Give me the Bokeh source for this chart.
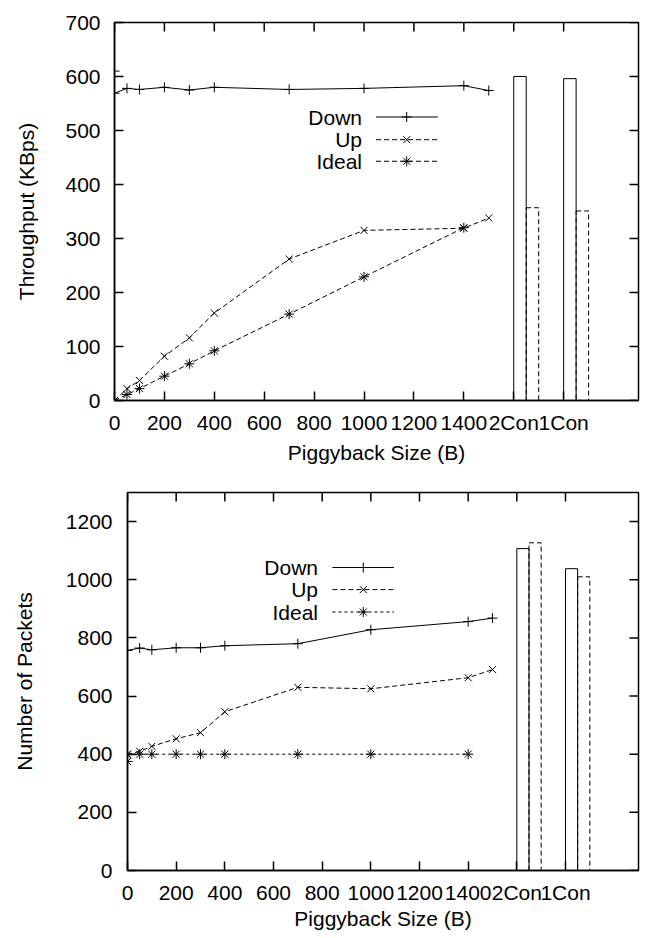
from bokeh.plotting import figure
from bokeh.models import Range1d, FixedTicker, Label
from bokeh.embed import file_html
from bokeh.resources import INLINE

# ---------------- data ----------------
x_tick_vals = [0, 200, 400, 600, 800, 1000, 1200, 1400, 1600, 1800]
x_tick_over = {1600: "2Con", 1800: "1Con"}
bar_cats = ["2Con", "1Con"]
bar_pos = [1600, 1800]

# top chart: throughput (KBps)
tp_down_x = [0, 0, 50, 100, 200, 300, 400, 700, 1000, 1400, 1500]
tp_down_y = [610, 569, 578, 576, 580, 575, 580, 576, 578, 583, 574]
tp_up_x = [0, 50, 100, 200, 300, 400, 700, 1000, 1400, 1500]
tp_up_y = [0, 22, 37, 82, 116, 162, 262, 315, 319, 338]
tp_ideal_x = [0, 50, 100, 200, 300, 400, 700, 1000, 1400]
tp_ideal_y = [0, 11, 22, 45, 68, 92, 160, 229, 320]
tp_bar_down = [600, 596]
tp_bar_up = [357, 351]
tp_yticks = [0, 100, 200, 300, 400, 500, 600, 700]

# bottom chart: number of packets
np_down_x = [0, 50, 100, 200, 300, 400, 700, 1000, 1400, 1500]
np_down_y = [757, 765, 759, 766, 766, 773, 780, 828, 856, 868]
np_up_x = [0, 50, 100, 200, 300, 400, 700, 1000, 1400, 1500]
np_up_y = [398, 410, 427, 453, 474, 546, 630, 625, 663, 691]
np_ideal_x = [0, 0, 50, 100, 200, 300, 400, 700, 1000, 1400]
np_ideal_y = [375, 400, 400, 400, 400, 400, 400, 400, 400, 400]
np_bar_down = [1107, 1038]
np_bar_up = [1127, 1010]
np_yticks = [0, 200, 400, 600, 800, 1000, 1200]

X_MAX = 2100
FONT = "Liberation Sans"
FS = "21px"
BAR_W = 50
TICK = 9


def make_fig(ylabel, ymax, yticks, down, up, ideal, bars_d, bars_u, ideal_dash,
             left, fw, top, bottom, ylab_standoff, tick_standoff, xlab_standoff, leg):
    p = figure(width=left + fw + 6, height=top + 378 + bottom,
               x_range=Range1d(0, X_MAX), y_range=Range1d(0, ymax),
               output_backend="svg", toolbar_location=None,
               min_border_left=left, min_border_right=6,
               min_border_top=top, min_border_bottom=bottom)
    p.xgrid.visible = False
    p.ygrid.visible = False
    p.outline_line_color = "black"
    p.outline_line_width = 1.5
    p.background_fill_color = "white"
    p.border_fill_color = "white"

    for ax in (p.xaxis[0], p.yaxis[0]):
        ax.major_tick_in = TICK
        ax.major_tick_out = 0
        ax.minor_tick_line_color = None
        ax.major_tick_line_width = 1.5
        ax.axis_line_width = 1.5
        ax.major_label_text_font = FONT
        ax.major_label_text_font_size = FS
        ax.major_label_text_color = "black"
        ax.axis_label_text_font = FONT
        ax.axis_label_text_font_size = FS
        ax.axis_label_text_font_style = "normal"
        ax.axis_label_text_color = "black"
    p.xaxis.ticker = FixedTicker(ticks=x_tick_vals)
    p.xaxis.major_label_overrides = x_tick_over
    p.xaxis.major_label_standoff = 10
    p.xaxis.axis_label = "Piggyback Size (B)"
    p.xaxis.axis_label_standoff = xlab_standoff
    p.yaxis.ticker = FixedTicker(ticks=yticks)
    p.yaxis.axis_label = ylabel
    p.yaxis.major_label_standoff = tick_standoff
    p.yaxis.axis_label_standoff = ylab_standoff

    # mirrored ticks on top and right edges
    p.ray(x=x_tick_vals, y=[ymax] * len(x_tick_vals), length=TICK, length_units="screen",
          angle=-90, angle_units="deg", line_color="black", line_width=1.5)
    p.ray(x=[X_MAX] * len(yticks), y=yticks, length=TICK, length_units="screen",
          angle=180, angle_units="deg", line_color="black", line_width=1.5)

    # series
    dx, dy = down
    ux, uy = up
    ix, iy = ideal
    p.line(dx, dy, line_color="black", line_width=1)
    p.scatter(dx, dy, marker="cross", size=10, line_color="black", line_width=1)
    p.line(ux, uy, line_color="black", line_width=1, line_dash="5 3")
    p.scatter(ux, uy, marker="x", size=10, line_color="black", line_width=1)
    p.line(ix, iy, line_color="black", line_width=1, line_dash=ideal_dash)
    p.scatter(ix, iy, marker="asterisk", size=10, line_color="black", line_width=1)

    # bars
    lefts = list(bar_pos)
    p.quad(left=lefts, right=[b + BAR_W for b in lefts], bottom=0, top=bars_d,
           fill_color=None, line_color="black", line_width=1)
    p.quad(left=[b + BAR_W for b in lefts], right=[b + 2 * BAR_W for b in lefts], bottom=0,
           top=bars_u, fill_color=None, line_color="black", line_width=1, line_dash="5 3")

    # legend (gnuplot style: text, then sample)
    tx, lx0, lx1, mx, rows = leg
    names = ["Down", "Up", "Ideal"]
    dashes = ["solid", "5 3", ideal_dash]
    markers = ["cross", "x", "asterisk"]
    for name, ry, dsh, mk in zip(names, rows, dashes, markers):
        p.add_layout(Label(x=tx, y=ry, text=name, text_align="right", text_baseline="middle",
                           text_font=FONT, text_font_size=FS, text_color="black"))
        p.line([lx0, lx1], [ry, ry], line_color="black", line_width=1, line_dash=dsh)
        p.scatter([mx], [ry], marker=mk, size=10, line_color="black", line_width=1)
    return p


p1 = make_fig("Throughput (KBps)", 700, tp_yticks,
              (tp_down_x, tp_down_y), (tp_up_x, tp_up_y), (tp_ideal_x, tp_ideal_y),
              tp_bar_down, tp_bar_up, "5 3",
              left=114, fw=524, top=22, bottom=70, ylab_standoff=24, tick_standoff=14,
              xlab_standoff=4,
              leg=(992, 1048, 1296, 1171, [525, 483, 443]))
p2 = make_fig("Number of Packets", 1300, np_yticks,
              (np_down_x, np_down_y), (np_up_x, np_up_y), (np_ideal_x, np_ideal_y),
              np_bar_down, np_bar_up, "3 3",
              left=127, fw=511, top=22, bottom=64, ylab_standoff=27, tick_standoff=15,
              xlab_standoff=0,
              leg=(783, 842, 1095, 969, [1042, 966, 889]))

open("out.html", "w").write(file_html([p1, p2], INLINE))
